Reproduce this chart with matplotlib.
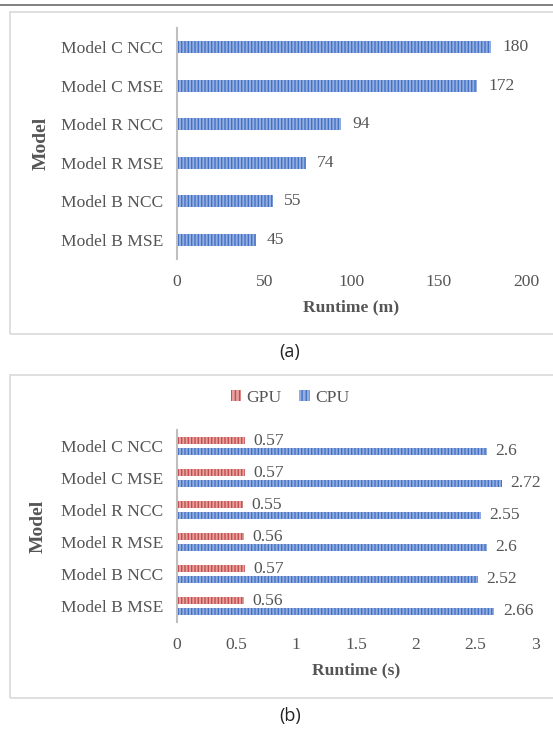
import matplotlib
matplotlib.use("Agg")
import matplotlib.pyplot as plt
from matplotlib.patches import Rectangle, Patch
from matplotlib.lines import Line2D

# runtime data, listed top to bottom as shown
models = ["Model C NCC", "Model C MSE", "Model R NCC", "Model R MSE",
          "Model B NCC", "Model B MSE"]
train_minutes = [180, 172, 94, 74, 55, 45]
gpu_seconds = [0.57, 0.57, 0.55, 0.56, 0.57, 0.56]
cpu_seconds = [2.6, 2.72, 2.55, 2.6, 2.52, 2.66]
ticks_a = [0, 50, 100, 150, 200]
ticks_b = [0, 0.5, 1, 1.5, 2, 2.5, 3]
tick_labels_b = ["0", "0.5", "1", "1.5", "2", "2.5", "3"]

W, H = 553, 729
GREY = "#555555"
BLUE_FACE, BLUE_HATCH = "#94aee0", "#4472c4"
RED_FACE, RED_HATCH = "#e8a09e", "#c0504d"
FS = 12.6

plt.rcParams["hatch.linewidth"] = 1.0
plt.rcParams["font.family"] = "Liberation Serif"

fig = plt.figure(figsize=(W / 100, H / 100), dpi=100)


def box(x0, y0, x1, y1):
    # pixel box (top-left origin) -> figure fraction rect
    return [x0 / W, 1 - y1 / H, (x1 - x0) / W, (y1 - y0) / H]


# thin rule across the top and the two panel frames
fig.add_artist(Line2D([0, 1], [1 - 5 / H] * 2, color="#6b6b6b", lw=1.2,
                      transform=fig.transFigure))
for y0, y1 in [(12, 334), (375, 698)]:
    fig.add_artist(Rectangle((10 / W, 1 - y1 / H), 1, (y1 - y0) / H,
                             transform=fig.transFigure, fill=False,
                             ec="#d9d9d9", lw=1.2))
fig.text(290 / W, 1 - 352 / H, "(a)", ha="center", va="center",
         fontsize=13, family="Open Sans", color="#222222")
fig.text(290 / W, 1 - 716 / H, "(b)", ha="center", va="center",
         fontsize=13, family="Open Sans", color="#222222")


def style_axes(ax, xmax, ticks, labels, xlabel, height_px):
    ax.set_xlim(0, xmax)
    ax.set_xticks(ticks)
    ax.set_xticklabels(labels)
    ax.set_ylim(len(models) - 0.5, -0.5)
    ax.set_yticks(range(len(models)))
    ax.set_yticklabels(models)
    for s in ["top", "right", "bottom"]:
        ax.spines[s].set_visible(False)
    ax.spines["left"].set_color("#bfbfbf")
    ax.spines["left"].set_linewidth(1.5)
    ax.tick_params(length=0, labelsize=FS, colors=GREY)
    ax.tick_params(axis="x", pad=11)
    ax.tick_params(axis="y", pad=10)
    ax.set_xlabel(xlabel, fontsize=FS, fontweight="bold", color=GREY)
    ax.xaxis.set_label_coords(0.5, -48 / height_px)
    ax.xaxis.label.set_va("center")
    ax.set_ylabel("Model", fontsize=14, fontweight="bold", color=GREY)
    ax.yaxis.set_label_coords((50 - 177) / 349, 0.5)


# (a) training runtime in minutes
ax1 = fig.add_axes(box(177, 28, 526, 259))
ax1.barh(range(len(models)), train_minutes, height=0.31, color=BLUE_FACE,
         edgecolor=BLUE_HATCH, hatch="|||||", lw=0)
for i, v in enumerate(train_minutes):
    ax1.annotate(str(v), (v, i), xytext=(8, 0), textcoords="offset points",
                 va="center", ha="left", fontsize=FS, color=GREY)
style_axes(ax1, 200, ticks_a, [str(t) for t in ticks_a], "Runtime (m)", 231)

# (b) inference runtime in seconds, GPU vs CPU
ax2 = fig.add_axes(box(177, 430, 535, 622))
pos = list(range(len(models)))
ax2.barh([p - 0.165 for p in pos], gpu_seconds, height=0.22, color=RED_FACE,
         edgecolor=RED_HATCH, hatch="|||||", lw=0)
ax2.barh([p + 0.165 for p in pos], cpu_seconds, height=0.22, color=BLUE_FACE,
         edgecolor=BLUE_HATCH, hatch="|||||", lw=0)
for i, v in enumerate(gpu_seconds):
    ax2.annotate(f"{v:g}", (v, i - 0.165), xytext=(6, 0),
                 textcoords="offset points", va="center", ha="left",
                 fontsize=FS, color=GREY)
for i, v in enumerate(cpu_seconds):
    ax2.annotate(f"{v:g}", (v, i + 0.165), xytext=(6, 0),
                 textcoords="offset points", va="center", ha="left",
                 fontsize=FS, color=GREY)
style_axes(ax2, 3, ticks_b, tick_labels_b, "Runtime (s)", 192)

handles = [Patch(facecolor=RED_FACE, edgecolor=RED_HATCH, hatch="||||", lw=0),
           Patch(facecolor=BLUE_FACE, edgecolor=BLUE_HATCH, hatch="||||", lw=0)]
fig.legend(handles, ["GPU", "CPU"], loc="center", ncol=2,
           bbox_to_anchor=(290 / W, 1 - 398 / H), frameon=False,
           handlelength=0.6, handleheight=0.6, handletextpad=0.3,
           columnspacing=1.0, labelcolor=GREY, prop={"size": FS})

fig.savefig("out.png", dpi=100)
